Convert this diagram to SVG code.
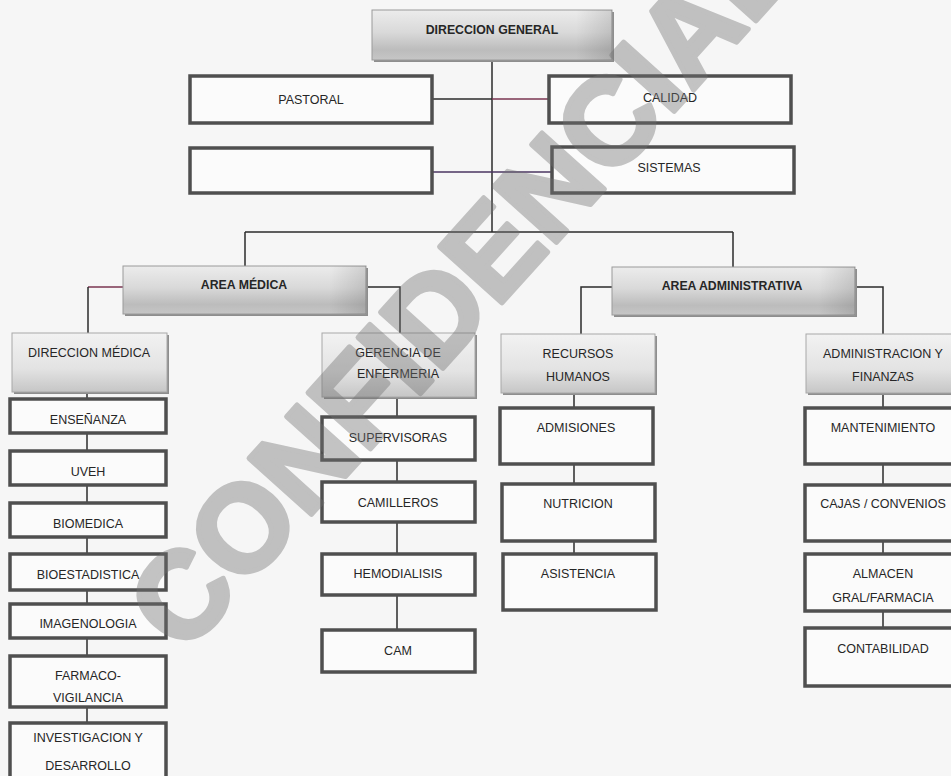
<svg xmlns="http://www.w3.org/2000/svg" width="951" height="776" viewBox="0 0 951 776">
<defs>
<linearGradient id="gHdr" x1="0" y1="0" x2="0" y2="1">
<stop offset="0" stop-color="#ececec"/><stop offset="0.45" stop-color="#d9d9d9"/><stop offset="0.8" stop-color="#bcbcbc"/><stop offset="1" stop-color="#c6c6c6"/>
</linearGradient>
<linearGradient id="gSub" x1="0" y1="0" x2="0" y2="1">
<stop offset="0" stop-color="#f2f2f2"/><stop offset="0.6" stop-color="#e3e3e3"/><stop offset="1" stop-color="#c6c6c6"/>
</linearGradient>
<linearGradient id="gSide" x1="0" y1="0" x2="1" y2="0">
<stop offset="0" stop-color="#000" stop-opacity="0"/><stop offset="0.85" stop-color="#000" stop-opacity="0"/><stop offset="1" stop-color="#000" stop-opacity="0.12"/>
</linearGradient>
</defs>
<style>
text{font-family:"Liberation Sans",Arial,sans-serif;fill:#262626;text-anchor:middle}
.t{font-size:12.5px}
.b{font-size:12.3px;font-weight:bold}
.box{fill:#fbfbfb;stroke:#4f4f4f;stroke-width:3.5}
.hdr{fill:url(#gHdr);stroke:#9a9a9a;stroke-width:1}
.sub{fill:url(#gSub);stroke:#a8a8a8;stroke-width:1}
.side{fill:url(#gSide)}
.sh{fill:#8e8e8e}
.ln{fill:none;stroke:#2b2b2b;stroke-width:1.5}
.lr{fill:none;stroke:#7a3450;stroke-width:1.5}
.lp{fill:none;stroke:#4a3460;stroke-width:1.5}
.wm{font-family:"Liberation Sans",Arial,sans-serif;font-size:122px;font-weight:bold;fill:#707070;stroke:#707070;stroke-width:5;stroke-linejoin:round;text-anchor:middle}
</style>
<rect x="0" y="0" width="951" height="776" fill="#f6f6f6"/>

<g id="connectors">
<path class="ln" d="M492 60V232"/>
<path class="ln" d="M432 99H492"/><path class="lr" d="M492 99H549"/>
<path class="lp" d="M432 172H552"/>
<path class="ln" d="M245 232H733"/>
<path class="ln" d="M245 232V266"/>
<path class="ln" d="M733 232V267"/>
<path class="lr" d="M123 287H88"/><path class="ln" d="M88 287V333"/>
<path class="ln" d="M366 287H400V333"/>
<path class="ln" d="M612 287H581V334"/>
<path class="ln" d="M855 287H883V334"/>
<path class="ln" d="M87 392V722"/>
<path class="ln" d="M397 397V629"/>
<path class="ln" d="M574 393V553"/>
<path class="ln" d="M883 393V627"/>
</g>

<g id="direccion-general">
<rect class="sh" x="374" y="12" width="240" height="50"/>
<rect class="hdr" x="372" y="10" width="240" height="50"/>
<rect class="side" x="372" y="10" width="240" height="50"/>
<text class="b" x="492" y="34">DIRECCION GENERAL</text>
</g>
<g id="pastoral"><rect class="box" x="190" y="76" width="242" height="47"/><text class="t" x="311" y="104">PASTORAL</text></g>
<g id="calidad"><rect class="box" x="549" y="76" width="242" height="47"/><text class="t" x="670" y="102">CALIDAD</text></g>
<g id="vacio"><rect class="box" x="190" y="148" width="242" height="45"/></g>
<g id="sistemas"><rect class="box" x="552" y="147" width="242" height="46"/><text class="t" x="669" y="172">SISTEMAS</text></g>

<g id="area-medica">
<rect class="sh" x="125" y="268" width="243" height="48"/>
<rect class="hdr" x="123" y="266" width="243" height="48"/>
<rect class="side" x="123" y="266" width="243" height="48"/>
<text class="b" x="244" y="289">AREA MÉDICA</text>
</g>
<g id="area-administrativa">
<rect class="sh" x="614" y="269" width="243" height="48"/>
<rect class="hdr" x="612" y="267" width="243" height="48"/>
<rect class="side" x="612" y="267" width="243" height="48"/>
<text class="b" x="732" y="290">AREA ADMINISTRATIVA</text>
</g>

<g id="direccion-medica">
<rect class="sh" x="14" y="335" width="155" height="59"/>
<rect class="sub" x="12" y="333" width="155" height="59"/>
<text class="t" x="89" y="357">DIRECCION MÉDICA</text>
</g>
<g id="gerencia-enfermeria">
<rect class="sh" x="324" y="335" width="153" height="64"/>
<rect class="sub" x="322" y="333" width="153" height="64"/>
<text class="t" x="398" y="357">GERENCIA DE</text><text class="t" x="398" y="378">ENFERMERIA</text>
</g>
<g id="recursos-humanos">
<rect class="sh" x="503" y="336" width="154" height="59"/>
<rect class="sub" x="501" y="334" width="154" height="59"/>
<text class="t" x="578" y="358">RECURSOS</text><text class="t" x="578" y="381">HUMANOS</text>
</g>
<g id="administracion-finanzas">
<rect class="sh" x="808" y="336" width="154" height="59"/>
<rect class="sub" x="806" y="334" width="154" height="59"/>
<text class="t" x="883" y="358">ADMINISTRACION Y</text><text class="t" x="883" y="381">FINANZAS</text>
</g>

<g id="ensenanza"><rect class="box" x="10" y="399" width="156" height="34"/><text class="t" x="88" y="424">ENSEÑANZA</text></g>
<g id="uveh"><rect class="box" x="10" y="451" width="156" height="34"/><text class="t" x="88" y="476">UVEH</text></g>
<g id="biomedica"><rect class="box" x="10" y="503" width="156" height="34"/><text class="t" x="88" y="528">BIOMEDICA</text></g>
<g id="bioestadistica"><rect class="box" x="10" y="554" width="156" height="36"/><text class="t" x="88" y="579">BIOESTADISTICA</text></g>
<g id="imagenologia"><rect class="box" x="10" y="604" width="156" height="34"/><text class="t" x="88" y="628">IMAGENOLOGIA</text></g>
<g id="farmacovigilancia"><rect class="box" x="10" y="656" width="156" height="51"/><text class="t" x="88" y="680">FARMACO-</text><text class="t" x="88" y="702">VIGILANCIA</text></g>
<g id="investigacion"><rect class="box" x="10" y="723" width="156" height="70"/><text class="t" x="88" y="742">INVESTIGACION Y</text><text class="t" x="88" y="770">DESARROLLO</text></g>

<g id="supervisoras"><rect class="box" x="322" y="417" width="153" height="43"/><text class="t" x="398" y="442">SUPERVISORAS</text></g>
<g id="camilleros"><rect class="box" x="322" y="482" width="153" height="40"/><text class="t" x="398" y="507">CAMILLEROS</text></g>
<g id="hemodialisis"><rect class="box" x="322" y="554" width="153" height="41"/><text class="t" x="398" y="578">HEMODIALISIS</text></g>
<g id="cam"><rect class="box" x="322" y="630" width="153" height="42"/><text class="t" x="398" y="655">CAM</text></g>

<g id="admisiones"><rect class="box" x="500" y="408" width="153" height="56"/><text class="t" x="576" y="432">ADMISIONES</text></g>
<g id="nutricion"><rect class="box" x="502" y="484" width="153" height="57"/><text class="t" x="578" y="508">NUTRICION</text></g>
<g id="asistencia"><rect class="box" x="503" y="554" width="153" height="56"/><text class="t" x="578" y="578">ASISTENCIA</text></g>

<g id="mantenimiento"><rect class="box" x="805" y="408" width="160" height="56"/><text class="t" x="883" y="432">MANTENIMIENTO</text></g>
<g id="cajas"><rect class="box" x="805" y="485" width="160" height="56"/><text class="t" x="883" y="508">CAJAS / CONVENIOS</text></g>
<g id="almacen"><rect class="box" x="805" y="554" width="160" height="57"/><text class="t" x="883" y="578">ALMACEN</text><text class="t" x="883" y="602">GRAL/FARMACIA</text></g>
<g id="contabilidad"><rect class="box" x="805" y="628" width="160" height="58"/><text class="t" x="883" y="653">CONTABILIDAD</text></g>

<g id="watermark" opacity="0.4">
<text class="wm" x="492" y="314" transform="rotate(-48 492 314)">CONFIDENCIAL</text>
</g>
</svg>
